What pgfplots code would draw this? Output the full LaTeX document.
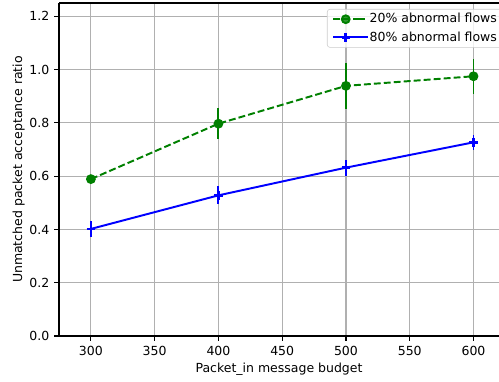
\documentclass[border=0pt]{standalone}
\usepackage{fontspec}
\setmainfont{DejaVu Sans}
\usepackage{pgfplots}
\pgfplotsset{compat=1.18}
\definecolor{mplgreen}{RGB}{0,128,0}
\definecolor{gridgray}{HTML}{B0B0B0}
\begin{document}
\begin{tikzpicture}
\begin{axis}[
  name=ax,
  scale only axis,
  width=316.8pt, height=239.8pt,
  xmin=275, xmax=620, ymin=0, ymax=1.25,
  xtick={300,350,...,600},
  ytick={0,0.2,...,1.2},
  yticklabel style={/pgf/number format/.cd,fixed,fixed zerofill,precision=1},
  /pgf/number format/assume math mode=true,
  axis x line*=box, axis y line*=left,
  xtick pos=left, ytick pos=left,
  tick align=outside,
  major tick length=3.5pt,
  every tick/.style={black, line width=0.8pt},
  axis line style={black, line width=0.8pt},
  grid=major,
  major grid style={gridgray, line width=0.8pt},
  tick label style={font=\fontsize{9}{11}\selectfont},
  label style={font=\fontsize{9}{11}\selectfont},
  xlabel={Packet\_in message budget},
  ylabel={Unmatched packet acceptance ratio},
  xlabel style={yshift=1pt},
  ylabel style={yshift=-3.5pt},
  legend style={at={(0.609,0.982)}, anchor=north west, font=\fontsize{9}{11}\selectfont,
    draw=gray!40, rounded corners=2pt, fill=white, fill opacity=0.8, text opacity=1,
    inner xsep=3.6pt, inner ysep=2.5pt, nodes={inner sep=0.5pt}, row sep=3.8pt, column sep=0pt},
  legend cell align=left,
  legend image code/.code={
    \draw[mark repeat=2,mark phase=2,#1] plot coordinates {(0pt,0pt) (9pt,0pt) (18pt,0pt)};
    \path (18pt,0pt) -- (25pt,0pt);
  },
]
\addplot[mplgreen, dashed, dash pattern=on 5pt off 2.2pt, line width=1.4pt,
  mark=*, mark size=2.8pt, mark options={solid},
  error bars/.cd, y dir=both, y explicit, error mark=none,
  error bar style={line width=1.4pt, solid, mplgreen}]
  coordinates {
  (300,0.589) +- (0,0.010)
  (400,0.797) +- (0,0.058)
  (500,0.939) +- (0,0.086)
  (600,0.975) +- (0,0.066)
};
\addlegendentry{20\% abnormal flows}
\addplot[blue, solid, line width=1.4pt,
  mark=+, mark size=3pt, mark options={solid, line width=1.8pt},
  error bars/.cd, y dir=both, y explicit, error mark=none,
  error bar style={line width=1.4pt, solid, blue}]
  coordinates {
  (300,0.402) +- (0,0.030)
  (400,0.528) +- (0,0.034)
  (500,0.632) +- (0,0.030)
  (600,0.727) +- (0,0.028)
};
\addlegendentry{80\% abnormal flows}
\end{axis}
\pgfresetboundingbox
\path[use as bounding box] ([xshift=-42.5pt,yshift=-32.4pt]ax.south west) rectangle ([yshift=2.16pt]ax.north east);
\end{tikzpicture}
\end{document}
